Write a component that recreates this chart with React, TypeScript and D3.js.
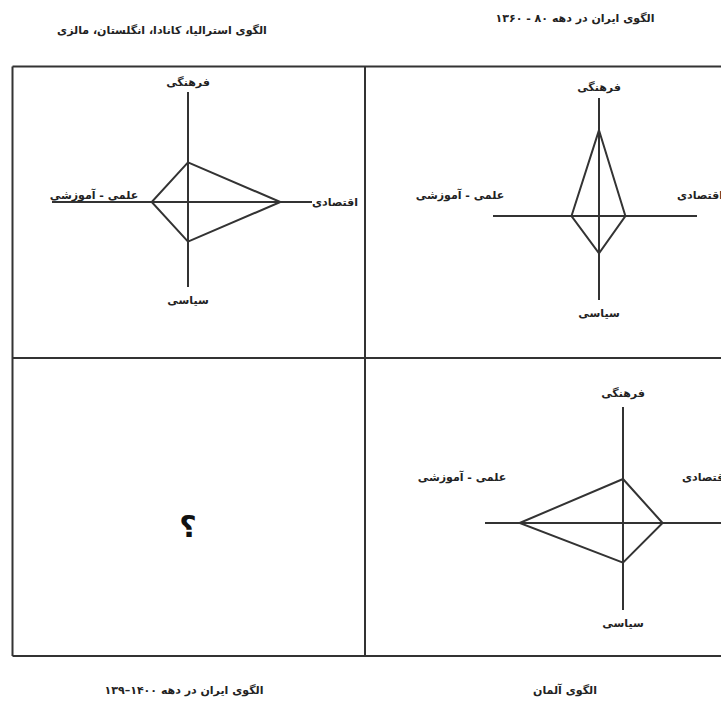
import React from "react";
import { scaleLinear, lineRadial, curveLinearClosed } from "d3";

// axis order: top, right, bottom, left (clockwise from 12 o'clock)
const axes = ["فرهنگی", "اقتصادی", "سیاسی", "علمی - آموزشی"];

const valuesWest = [3.6, 8.4, 3.6, 3.3];
const valuesIran60 = [7.8, 2.4, 3.4, 2.5];
const valuesGermany = [4.0, 3.6, 3.6, 9.4];

const titles = [
  "الگوی استرالیا، کانادا، انگلستان، مالزی",
  "الگوی ایران در دهه ۸۰ - ۱۳۶۰",
  "الگوی ایران در دهه ۱۴۰۰–۱۳۹",
  "الگوی آلمان",
];

const W = 721;
const H = 705;
const ink = "#333";
const font = "'DejaVu Sans', sans-serif";

const r = scaleLinear().domain([0, 10]).range([0, 110]);

const radar = lineRadial<number>()
  .angle((_, i) => (i * Math.PI) / 2)
  .radius((d) => r(d))
  .curve(curveLinearClosed);

type Panel = {
  cx: number;
  cy: number;
  values: number[];
  reach: number[]; // axis arm lengths: up, right, down, left
  labelPos: [number, number][];
};

const panels: Panel[] = [
  {
    cx: 188, cy: 202, values: valuesWest,
    reach: [110, 124, 85, 136],
    labelPos: [[0, -120], [147, 0], [0, 98], [-94, -7]],
  },
  {
    cx: 599, cy: 216, values: valuesIran60,
    reach: [118, 98, 84, 106],
    labelPos: [[0, -129], [101, -21], [0, 97], [-139, -21]],
  },
  {
    cx: 623, cy: 523, values: valuesGermany,
    reach: [116, 100, 87, 138],
    labelPos: [[0, -130], [82, -46], [0, 100], [-161, -46]],
  },
];

const titlePos: [number, number][] = [[162, 30], [575, 18], [184, 690], [565, 690]];

const Radar = ({ p }: { p: Panel }) => {
  const [up, right, down, left] = p.reach;
  return (
    <g transform={`translate(${p.cx},${p.cy})`}>
      <line x1={0} y1={-up} x2={0} y2={down} stroke={ink} strokeWidth={2} />
      <line x1={-left} y1={0} x2={right} y2={0} stroke={ink} strokeWidth={2} />
      <path d={radar(p.values) ?? ""} fill="none" stroke={ink} strokeWidth={2} strokeLinejoin="miter" />
      {axes.map((a, i) => (
        <text
          key={a}
          x={p.labelPos[i][0]}
          y={p.labelPos[i][1]}
          textAnchor="middle"
          dominantBaseline="central"
          direction="rtl"
          fontFamily={font}
          fontWeight="bold"
          fontSize={11}
          fill="#222"
        >
          {a}
        </text>
      ))}
    </g>
  );
};

export default function App() {
  const left = 12.5, top = 66.5, bottom = 656, midX = 365, midY = 358;
  return (
    <svg
      width={W}
      height={H}
      style={{ position: "absolute", left: 0, top: 0, background: "#fff" }}
    >
      <rect x={0} y={0} width={W} height={H} fill="#fff" />
      {/* frame, open to the right edge */}
      <g stroke={ink} strokeWidth={2} fill="none">
        <line x1={left} y1={top} x2={W + 5} y2={top} />
        <line x1={left} y1={bottom} x2={W + 5} y2={bottom} />
        <line x1={left} y1={top} x2={left} y2={bottom} />
        <line x1={midX} y1={top} x2={midX} y2={bottom} />
        <line x1={left} y1={midY} x2={W + 5} y2={midY} />
      </g>
      {panels.map((p, i) => (
        <Radar key={i} p={p} />
      ))}
      <text
        x={188}
        y={526}
        textAnchor="middle"
        dominantBaseline="central"
        fontFamily={font}
        fontWeight="bold"
        fontSize={30}
        fill="#111"
      >
        ؟
      </text>
      {titles.map((t, i) => (
        <text
          key={t}
          x={titlePos[i][0]}
          y={titlePos[i][1]}
          textAnchor="middle"
          dominantBaseline="central"
          direction="rtl"
          fontFamily={font}
          fontWeight="bold"
          fontSize={11}
          fill="#222"
        >
          {t}
        </text>
      ))}
    </svg>
  );
}
